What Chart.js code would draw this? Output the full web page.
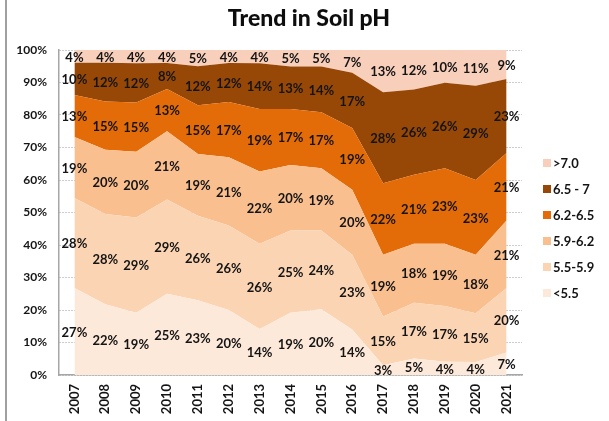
<!DOCTYPE html>
<html>
<head>
<meta charset="utf-8">
<title>Trend in Soil pH</title>
<script src="https://cdn.jsdelivr.net/npm/chart.js@4.4.1/dist/chart.umd.min.js"></script>
<style>
  html, body { margin: 0; padding: 0; background: #ffffff; }
  #wrap { position: relative; width: 609px; height: 421px; }
</style>
</head>
<body>
<div id="wrap"><canvas id="soilChart"></canvas></div>
<script>
// Yıllar ve pH aralıkları
const years = ['2007', '2008', '2009', '2010', '2011', '2012', '2013', '2014',
               '2015', '2016', '2017', '2018', '2019', '2020', '2021'];

const phBelow55 = [27, 22, 19, 25, 23, 20, 14, 19, 20, 14, 3, 5, 4, 4, 7];
const ph55to59  = [28, 28, 29, 29, 26, 26, 26, 25, 24, 23, 15, 17, 17, 15, 20];
const ph59to62  = [19, 20, 20, 21, 19, 21, 22, 20, 19, 20, 19, 18, 19, 18, 21];
const ph62to65  = [13, 15, 15, 13, 15, 17, 19, 17, 17, 19, 22, 21, 23, 23, 21];
const ph65to7   = [10, 12, 12, 8, 12, 12, 14, 13, 14, 17, 28, 26, 26, 29, 23];
const phAbove7  = [4, 4, 4, 4, 5, 4, 4, 5, 5, 7, 13, 12, 10, 11, 9];

const seriesNames = ['<5.5', '5.5-5.9', '5.9-6.2', '6.2-6.5', '6.5 - 7', '>7.0'];
const seriesValues = [phBelow55, ph55to59, ph59to62, ph62to65, ph65to7, phAbove7];
const yTicks = [0, 10, 20, 30, 40, 50, 60, 70, 80, 90, 100];

// Renkler (alttan üste)
const seriesColors = ['#fde9d9', '#fbd4b4', '#fabf8f', '#e36c09', '#974806', '#f8cfbb'];

// %100 yığılmış alan için her yılın toplamına göre normalize et
const yearTotals = years.map((_, i) => seriesValues.reduce((s, arr) => s + arr[i], 0));

const datasets = seriesValues.map((vals, di) => ({
    label: seriesNames[di],
    data: vals.map((v, i) => v / yearTotals[i] * 100),
    rawValues: vals,
    backgroundColor: seriesColors[di],
    borderColor: seriesColors[di],
    borderWidth: 0,
    pointRadius: 0,
    pointHoverRadius: 0,
    tension: 0,
    fill: di === 0 ? 'origin' : '-1'
}));

// Her dilimin ortasına yüzde etiketi
const segmentLabels = {
    id: 'segmentLabels',
    afterDatasetsDraw(chart) {
        const ctx = chart.ctx;
        const yScale = chart.scales.y;
        ctx.save();
        ctx.font = 'bold 13px Lato';
        ctx.fillStyle = '#141414';
        ctx.textAlign = 'center';
        ctx.textBaseline = 'middle';
        chart.data.datasets.forEach((ds, di) => {
            const meta = chart.getDatasetMeta(di);
            const below = di > 0 ? chart.getDatasetMeta(di - 1) : null;
            meta.data.forEach((pt, i) => {
                const yBottom = below ? below.data[i].y : yScale.getPixelForValue(0);
                ctx.fillText(ds.rawValues[i] + '%', pt.x, (pt.y + yBottom) / 2 + 1);
            });
        });
        ctx.restore();
    }
};

// Başlık, sağdaki açıklama ve çerçeve çizgisi
const frameAndLegend = {
    id: 'frameAndLegend',
    afterDraw(chart) {
        const ctx = chart.ctx;
        ctx.save();
        // sol çerçeve
        ctx.strokeStyle = '#a0a0a0';
        ctx.lineWidth = 2;
        ctx.beginPath();
        ctx.moveTo(6, 0);
        ctx.lineTo(6, 421);
        ctx.stroke();

        // başlık
        ctx.fillStyle = '#0d0d0d';
        ctx.font = '900 23px Lato';
        ctx.textAlign = 'center';
        ctx.textBaseline = 'middle';
        ctx.fillText('Trend in Soil pH', 309, 19);

        // açıklama (ters sırada)
        ctx.font = 'bold 13px Lato';
        ctx.textAlign = 'left';
        const items = chart.data.datasets.slice().reverse();
        items.forEach((ds, k) => {
            const y = 163 + k * 26;
            ctx.fillStyle = ds.backgroundColor;
            ctx.fillRect(543, y - 4, 8, 8);
            ctx.fillStyle = '#141414';
            ctx.fillText(ds.label, 553, y + 1);
        });
        ctx.restore();
    }
};

new Chart(document.getElementById('soilChart'), {
    type: 'line',
    data: {
        labels: years,
        datasets: datasets
    },
    options: {
        responsive: true,
        maintainAspectRatio: false,
        animation: false,
        layout: {
            padding: { top: 50, right: 87, bottom: 0, left: 0 }
        },
        plugins: {
            legend: { display: false },
            title: { display: false },
            tooltip: { enabled: false }
        },
        scales: {
            x: {
                offset: true,
                grid: { display: false, drawTicks: false },
                border: { display: true, color: '#a6a6a6', width: 1.5 },
                ticks: {
                    minRotation: 90,
                    maxRotation: 90,
                    padding: 9,
                    color: '#141414',
                    font: { family: 'Lato', size: 13, weight: 'bold' }
                },
                afterFit(scale) { scale.height = 46; }
            },
            y: {
                stacked: true,
                min: 0,
                max: 100,
                afterBuildTicks(scale) {
                    scale.ticks = yTicks.map(v => ({ value: v }));
                },
                grid: {
                    color: '#9a9a9a',
                    lineWidth: 1,
                    drawTicks: false
                },
                border: { display: true, color: '#a6a6a6', width: 1.5, dash: [1, 2] },
                ticks: {
                    padding: 12,
                    color: '#141414',
                    font: { family: 'Lato', size: 12, weight: 'bold' },
                    callback: v => v + '%'
                },
                afterFit(scale) { scale.width = 59; }
            }
        }
    },
    plugins: [segmentLabels, frameAndLegend]
});
</script>
</body>
</html>
